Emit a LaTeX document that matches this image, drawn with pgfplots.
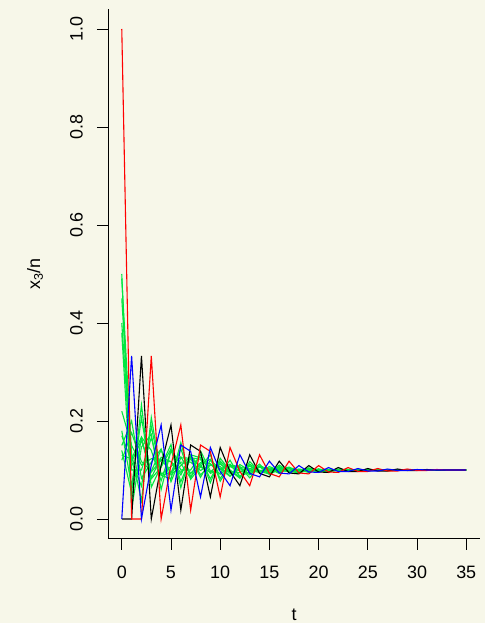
\documentclass[border=0pt]{standalone}
\usepackage{fontspec}
\setmainfont{Liberation Sans}
\usepackage{pgfplots}
\pgfplotsset{compat=1.18}
\usepackage{pgfplotstable}
\definecolor{bg}{RGB}{247,247,233}
\definecolor{rgreen}{RGB}{0,230,64}
\definecolor{rred}{RGB}{255,0,0}
\definecolor{rblue}{RGB}{0,0,255}

\pgfplotstableread{
t r k b g1 g2 g3 g4 g5 g6 g7 g8 g9 g10 g11 g12
0 1.000 0 0 0.500 0.490 0.400 0.380 0.220 0.180 0.150 0.130 0.450 0.120 0.170 0.140
1 0 0 0.333 0.020 0.133 0.100 0.040 0.150 0.067 0.200 0.123 0.117 0.176 0.117 0.053
2 0 0.333 0 0.147 0.037 0.100 0.167 0.110 0.207 0.083 0.167 0.067 0.117 0.160 0.233
3 0.333 0 0.110 0.173 0.207 0.166 0.140 0.123 0.082 0.116 0.084 0.189 0.098 0.096 0.065
4 0 0.110 0.192 0.060 0.089 0.091 0.078 0.122 0.106 0.143 0.126 0.089 0.141 0.120 0.108
5 0.110 0.192 0.018 0.140 0.082 0.107 0.140 0.095 0.143 0.076 0.117 0.094 0.090 0.117 0.152
6 0.192 0.018 0.151 0.113 0.156 0.127 0.100 0.116 0.076 0.125 0.090 0.143 0.109 0.095 0.064
7 0.018 0.151 0.138 0.083 0.081 0.093 0.100 0.116 0.125 0.124 0.129 0.086 0.128 0.123 0.131
8 0.151 0.138 0.045 0.139 0.107 0.115 0.131 0.099 0.122 0.085 0.106 0.112 0.090 0.108 0.125
9 0.138 0.045 0.146 0.098 0.131 0.113 0.093 0.111 0.082 0.120 0.095 0.122 0.110 0.096 0.074
10 0.045 0.146 0.097 0.093 0.077 0.091 0.102 0.102 0.118 0.102 0.115 0.083 0.107 0.112 0.124
11 0.146 0.097 0.068 0.120 0.110 0.107 0.112 0.095 0.100 0.087 0.093 0.109 0.088 0.096 0.099
12 0.097 0.068 0.131 0.086 0.107 0.098 0.087 0.102 0.085 0.111 0.095 0.104 0.105 0.095 0.083
13 0.068 0.131 0.093 0.097 0.084 0.094 0.103 0.100 0.112 0.099 0.109 0.090 0.103 0.108 0.117
14 0.131 0.093 0.086 0.112 0.108 0.106 0.107 0.099 0.099 0.095 0.096 0.108 0.095 0.097 0.097
15 0.093 0.086 0.118 0.091 0.102 0.098 0.092 0.101 0.094 0.107 0.099 0.100 0.104 0.098 0.092
16 0.086 0.118 0.094 0.101 0.093 0.097 0.103 0.100 0.107 0.099 0.105 0.096 0.101 0.105 0.110
17 0.118 0.094 0.092 0.106 0.105 0.103 0.103 0.100 0.097 0.097 0.096 0.104 0.096 0.097 0.098
18 0.094 0.092 0.109 0.094 0.100 0.099 0.095 0.100 0.096 0.102 0.098 0.098 0.101 0.098 0.094
19 0.092 0.109 0.096 0.100 0.095 0.099 0.102 0.100 0.104 0.099 0.103 0.097 0.100 0.102 0.104
20 0.109 0.096 0.095 0.102 0.102 0.101 0.100 0.100 0.099 0.097 0.097 0.101 0.097 0.098 0.097
21 0.096 0.095 0.105 0.096 0.099 0.100 0.097 0.100 0.097 0.101 0.099 0.100 0.100 0.100 0.099
22 0.095 0.105 0.097 0.100 0.098 0.100 0.101 0.100 0.101 0.099 0.101 0.100 0.100 0.100 0.101
23 0.105 0.097 0.097 0.101 0.101 0.100 0.101 0.100 0.100 0.100 0.100 0.100 0.100 0.100 0.100
24 0.097 0.097 0.103 0.097 0.099 0.100 0.099 0.100 0.099 0.100 0.100 0.100 0.100 0.100 0.100
25 0.097 0.103 0.098 0.100 0.098 0.100 0.100 0.100 0.100 0.100 0.100 0.100 0.100 0.100 0.100
26 0.103 0.098 0.098 0.101 0.100 0.100 0.100 0.100 0.100 0.100 0.100 0.100 0.100 0.100 0.100
27 0.098 0.098 0.102 0.098 0.100 0.100 0.100 0.100 0.100 0.100 0.100 0.100 0.100 0.100 0.100
28 0.098 0.102 0.099 0.100 0.100 0.100 0.100 0.100 0.100 0.100 0.100 0.100 0.100 0.100 0.100
29 0.102 0.099 0.099 0.100 0.100 0.100 0.100 0.100 0.100 0.100 0.100 0.100 0.100 0.100 0.100
30 0.099 0.099 0.101 0.100 0.100 0.100 0.100 0.100 0.100 0.100 0.100 0.100 0.100 0.100 0.100
31 0.099 0.101 0.100 0.100 0.100 0.100 0.100 0.100 0.100 0.100 0.100 0.100 0.100 0.100 0.100
32 0.101 0.100 0.100 0.100 0.100 0.100 0.100 0.100 0.100 0.100 0.100 0.100 0.100 0.100 0.100
33 0.100 0.100 0.100 0.100 0.100 0.100 0.100 0.100 0.100 0.100 0.100 0.100 0.100 0.100 0.100
34 0.100 0.100 0.100 0.100 0.100 0.100 0.100 0.100 0.100 0.100 0.100 0.100 0.100 0.100 0.100
35 0.100 0.100 0.100 0.100 0.100 0.100 0.100 0.100 0.100 0.100 0.100 0.100 0.100 0.100 0.100
}\data

\begin{document}
\begin{tikzpicture}
\fill[bg] (-108bp,-84.4bp) rectangle (377bp,538.6bp);
\useasboundingbox (-108bp,-84.4bp) rectangle (377bp,538.6bp);
\begin{axis}[
  at={(0,0)}, anchor=south west,
  scale only axis, width=372bp, height=529.2bp,
  xmin=-1.4, xmax=36.4, ymin=-0.04, ymax=1.04,
  axis x line*=bottom, axis y line*=left,
  axis line style={line width=0.8bp, black},
  tick align=outside, major tick length=11bp,
  tick style={line width=0.8bp, black},
  xtick={0,5,10,15,20,25,30,35},
  ytick={0,0.2,0.4,0.6,0.8,1.0},
  yticklabel style={/pgf/number format/fixed, /pgf/number format/fixed zerofill, /pgf/number format/precision=1, /pgf/number format/use period},
  /pgf/number format/assume math mode=true,
  tick label style={font=\fontsize{18}{21}\selectfont},
  xticklabel style={inner sep=0pt, anchor=north},
  yticklabel style={inner sep=0pt, rotate=90, anchor=south},
  xticklabel shift=16bp,
  yticklabel shift=14bp,
  label style={font=\fontsize{18}{21}\selectfont},
  xlabel={t},
  ylabel={x\textsubscript{3}/n},
  xlabel style={at={(axis description cs:0.5,-0.1436)}, anchor=center},
  ylabel style={at={(axis description cs:-0.196,0.5)}, anchor=center},
  every axis plot/.append style={line width=1.1bp, no markers},
  clip=false,
]
\addplot[rgreen] table[x=t,y=g1] {\data};
\addplot[rgreen] table[x=t,y=g2] {\data};
\addplot[rgreen] table[x=t,y=g3] {\data};
\addplot[rgreen] table[x=t,y=g4] {\data};
\addplot[rgreen] table[x=t,y=g5] {\data};
\addplot[rgreen] table[x=t,y=g6] {\data};
\addplot[rgreen] table[x=t,y=g7] {\data};
\addplot[rgreen] table[x=t,y=g8] {\data};
\addplot[rgreen] table[x=t,y=g9] {\data};
\addplot[rgreen] table[x=t,y=g10] {\data};
\addplot[rgreen] table[x=t,y=g11] {\data};
\addplot[rgreen] table[x=t,y=g12] {\data};
\addplot[black] table[x=t,y=k] {\data};
\addplot[rred] table[x=t,y=r] {\data};
\addplot[rblue] table[x=t,y=b] {\data};
\end{axis}
\end{tikzpicture}
\end{document}
